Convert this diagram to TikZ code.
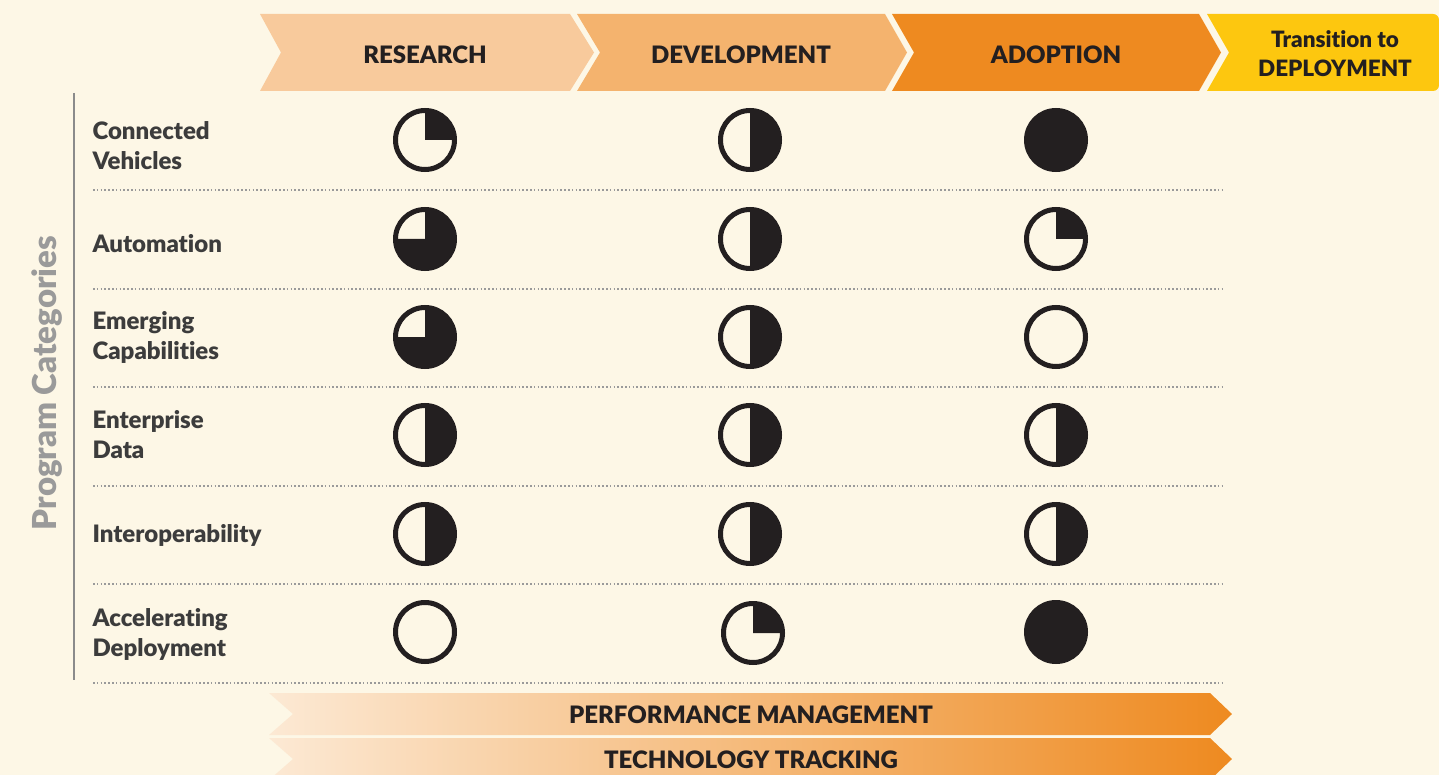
\documentclass[tikz,border=0pt]{standalone}
\usepackage{fontspec}
\setmainfont{Lato}
\newfontfamily\heavy{Lato Black}[Ligatures={NoCommon}]
\usetikzlibrary{shadings}
\definecolor{bg}{HTML}{FDF7E6}
\definecolor{cres}{HTML}{F8CA9C}
\definecolor{cdev}{HTML}{F4B36E}
\definecolor{cadp}{HTML}{EE8A20}
\definecolor{ctra}{HTML}{FDC70F}
\definecolor{ink}{HTML}{231F20}
\definecolor{lab}{HTML}{3C3C3C}
\definecolor{dots}{HTML}{9A9A9A}
\definecolor{glight}{HTML}{FCE9D4}
\tikzset{
  hdr/.style={font=\heavy\fontsize{24}{25}\selectfont, text=ink, align=center},
  rowlab/.style={font=\heavy\fontsize{24}{30}\selectfont, text=lab, align=left, anchor=west},
  sep/.style={draw=dots, line width=2pt, dash pattern=on 1.6pt off 2.2pt},
  ring/.style={draw=ink, line width=5pt},
  bar/.style={font=\heavy\fontsize{24}{24}\selectfont, text=ink},
}
\newcommand\rr{29.5}
\newcommand\pieQ[1]{\fill[ink] (#1) -- ++(\rr,0) arc[start angle=0,end angle=90,radius=\rr] -- cycle; \draw[ring] (#1) circle[radius=\rr];}
\newcommand\pieH[1]{\fill[ink] (#1) -- ++(0,\rr) arc[start angle=90,end angle=-90,radius=\rr] -- cycle; \draw[ring] (#1) circle[radius=\rr];}
\newcommand\pieT[1]{\fill[ink] (#1) -- ++(0,\rr) arc[start angle=90,end angle=-180,radius=\rr] -- cycle; \draw[ring] (#1) circle[radius=\rr];}
\newcommand\pieF[1]{\fill[ink] (#1) circle[radius=\rr]; \draw[ring] (#1) circle[radius=\rr];}
\newcommand\pieE[1]{\draw[ring] (#1) circle[radius=\rr];}
\begin{document}
\begin{tikzpicture}[x=1pt,y=1pt]
\useasboundingbox (0,-775) rectangle (1439,0);
\clip (0,-775) rectangle (1439,0);
\fill[bg] (0,-775) rectangle (1439,0);
% header chevrons
\fill[cres] (260,-14) -- (570,-14) -- (594,-52.5) -- (570,-91) -- (260,-91) -- (281,-52.5) -- cycle;
\fill[cdev] (577,-14) -- (885,-14) -- (907,-52.5) -- (885,-91) -- (577,-91) -- (600,-52.5) -- cycle;
\fill[cadp] (892,-14) -- (1199,-14) -- (1221,-52.5) -- (1199,-91) -- (892,-91) -- (914,-52.5) -- cycle;
\fill[ctra] (1207,-14) -- (1433,-14) arc[start angle=90,end angle=0,radius=6] -- (1439,-85) arc[start angle=0,end angle=-90,radius=6] -- (1207,-91) -- (1229,-52.5) -- cycle;
\node[hdr] (hres) at (425,-55) {RESEARCH};
\node[hdr] (hdev) at (741,-55) {DEVELOPMENT};
\node[hdr] (hadp) at (1056,-55) {ADOPTION};
\node[hdr, font=\heavy\fontsize{22.5}{29}\selectfont] (htra) at (1335,-54) {Transition to\\DEPLOYMENT};
% left axis
\draw[dots!90!black, line width=1.6pt] (74,-93) -- (74,-680);
\node[rotate=90, font=\heavy\fontsize{33}{34}\selectfont, text=dots] (axis) at (47,-383) {Program Categories};
% row labels
\node[rowlab] (l1) at (89,-146) {Connected\\Vehicles};
\node[rowlab] (l2) at (89,-244) {Automation};
\node[rowlab] (l3) at (89,-337) {Emerging\\Capabilities};
\node[rowlab] (l4) at (89,-435) {Enterprise\\Data};
\node[rowlab] (l5) at (89,-535) {Interoperability};
\node[rowlab] (l6) at (89,-634) {Accelerating\\Deployment};
% separators
\foreach \yy in {190,289,387,486,584,683} \draw[sep] (93,-\yy) -- (1224,-\yy);
% circles
\coordinate (c11) at (425,-140); \coordinate (c12) at (750,-140); \coordinate (c13) at (1056,-140);
\coordinate (c21) at (425,-239); \coordinate (c22) at (750,-239); \coordinate (c23) at (1056,-239);
\coordinate (c31) at (425,-337); \coordinate (c32) at (750,-337); \coordinate (c33) at (1056,-337);
\coordinate (c41) at (425,-435); \coordinate (c42) at (750,-435); \coordinate (c43) at (1056,-435);
\coordinate (c51) at (425,-534); \coordinate (c52) at (750,-534); \coordinate (c53) at (1056,-534);
\coordinate (c61) at (425,-632); \coordinate (c62) at (753,-633); \coordinate (c63) at (1056,-632);
\pieQ{c11} \pieH{c12} \pieF{c13}
\pieT{c21} \pieH{c22} \pieQ{c23}
\pieT{c31} \pieH{c32} \pieE{c33}
\pieH{c41} \pieH{c42} \pieH{c43}
\pieH{c51} \pieH{c52} \pieH{c53}
\pieE{c61} \pieQ{c62} \pieF{c63}
% bottom bars
\shade[left color=glight, middle color=cres, right color=cadp] (269,-693) -- (1210,-693) -- (1232,-714) -- (1210,-735) -- (269,-735) -- (293,-714) -- cycle;
\shade[left color=glight, middle color=cres, right color=cadp] (269,-738) -- (1210,-738) -- (1232,-759) -- (1210,-780) -- (269,-780) -- (293,-759) -- cycle;
\node[bar] (pm) at (751,-715) {PERFORMANCE MANAGEMENT};
\node[bar] (tt) at (751,-760) {TECHNOLOGY TRACKING};
\end{tikzpicture}
\end{document}
